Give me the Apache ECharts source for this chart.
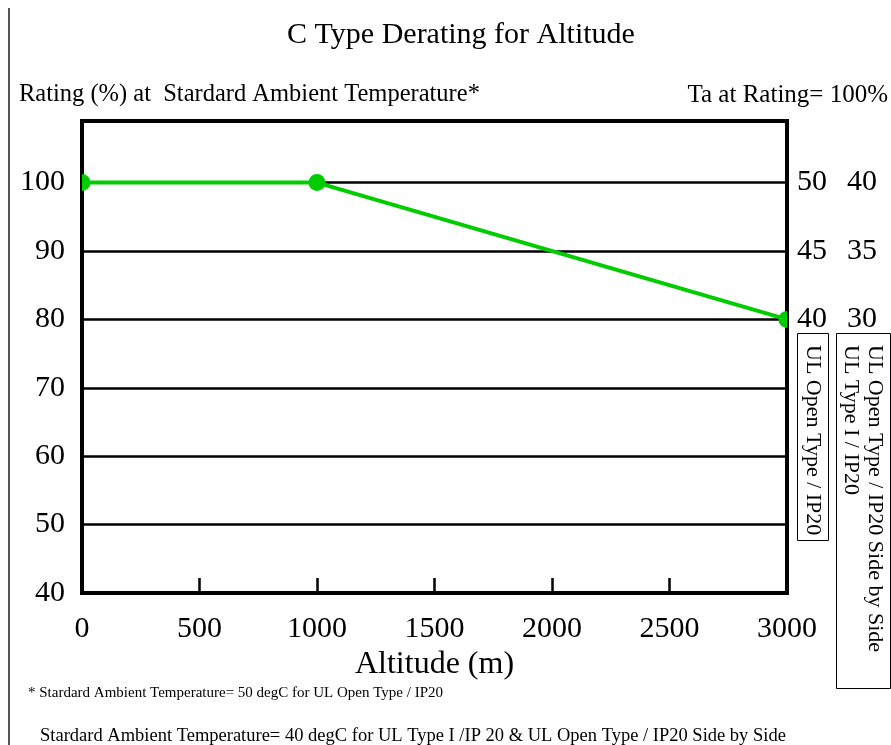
<!DOCTYPE html>
<html>
<head>
<meta charset="utf-8">
<script src="https://cdn.jsdelivr.net/npm/echarts@6/dist/echarts.min.js"></script>
<style>html,body{margin:0;padding:0;background:#fff;}#c{width:891px;height:745px;}</style>
</head>
<body>
<div id="c"></div>
<script>
const altitude = [0, 1000, 3000];
const rating = [100, 100, 80];
const rightTicks = [100, 90, 80];
const tempOpen = [50, 45, 40];
const tempSide = [40, 35, 30];
const titleText = 'C Type Derating for Altitude';
const leftHeader = 'Rating (%) at  Stardard Ambient Temperature*';
const rightHeader = 'Ta at Rating= 100%';
const xName = 'Altitude (m)';
const note1 = '* Stardard Ambient Temperature= 50 degC for UL Open Type / IP20';
const note2 = 'Stardard Ambient Temperature= 40 degC for UL Type I /IP 20 & UL Open Type / IP20 Side by Side';
const box1 = 'UL Open Type / IP20';
const box2 = ['UL Open Type / IP20 Side by Side', 'UL Type I / IP20'];

const FF = "'Liberation Serif', 'Times New Roman', serif";
const pts = altitude.map((a, i) => [a, rating[i]]);

const chart = echarts.init(document.getElementById('c'), null, {renderer: 'canvas'});
chart.setOption({
  animation: false,
  backgroundColor: '#fff',
  textStyle: {fontFamily: FF, color: '#000'},
  grid: {left: 82, right: 104, top: 121, bottom: 152, show: true, borderColor: '#000', borderWidth: 4, backgroundColor: 'transparent'},
  xAxis: {
    type: 'value', min: 0, max: 3000, interval: 500,
    name: xName, nameLocation: 'middle', nameGap: 52,
    nameTextStyle: {fontFamily: FF, fontSize: 32, color: '#000'},
    axisLine: {show: true, lineStyle: {color: '#000', width: 4}},
    axisTick: {show: true, inside: true, length: 15, lineStyle: {color: '#000', width: 2.5}},
    axisLabel: {fontFamily: FF, fontSize: 30, color: '#000', margin: 21, formatter: v => String(v)},
    splitLine: {show: false}
  },
  yAxis: [{
    type: 'value', min: 40, max: 109, interval: 10,
    axisLine: {show: true, lineStyle: {color: '#000', width: 4}},
    axisTick: {show: false},
    axisLabel: {fontFamily: FF, fontSize: 30, color: '#000', margin: 17,
      formatter: v => (v % 10 === 0 ? String(v) : '')},
    splitLine: {show: true, lineStyle: {color: '#000', width: 2.5}}
  }, {
    type: 'value', min: 40, max: 109, interval: 10, position: 'right',
    axisLine: {show: true, onZero: false, lineStyle: {color: '#000', width: 4}},
    axisTick: {show: false},
    axisLabel: {fontFamily: FF, fontSize: 30, color: '#000', margin: 10,
      formatter: v => {
        const i = rightTicks.indexOf(v);
        return i >= 0 ? '{a|' + tempOpen[i] + '}{b|' + tempSide[i] + '}' : '';
      },
      rich: {
        a: {fontFamily: FF, fontSize: 30, color: '#000'},
        b: {fontFamily: FF, fontSize: 30, color: '#000', padding: [0, 0, 0, 20]}
      }},
    splitLine: {show: false}
  }],
  series: [{
    type: 'line', data: pts, showSymbol: false, clip: true,
    lineStyle: {color: '#00cc00', width: 4}, z: 3
  }, {
    type: 'custom', data: pts, clip: true, z: 4,
    renderItem: (params, api) => {
      const p = api.coord([api.value(0), api.value(1)]);
      return {type: 'circle', shape: {cx: p[0], cy: p[1], r: 8.5}, style: {fill: '#00cc00'}};
    }
  }],
  graphic: [
    {type: 'line', shape: {x1: 9, y1: 8, x2: 9, y2: 745}, style: {stroke: '#555', lineWidth: 2}},
    {type: 'text', x: 461, y: 35, style: {text: titleText, font: '30px ' + FF, fill: '#000', align: 'center', verticalAlign: 'middle'}},
    {type: 'text', x: 19, y: 95, style: {text: leftHeader, font: '24.5px ' + FF, fill: '#000', align: 'left', verticalAlign: 'middle'}},
    {type: 'text', x: 888, y: 95, style: {text: rightHeader, font: '25px ' + FF, fill: '#000', align: 'right', verticalAlign: 'middle'}},
    {type: 'text', x: 28, y: 693, style: {text: note1, font: '15px ' + FF, fill: '#000', align: 'left', verticalAlign: 'middle'}},
    {type: 'text', x: 40, y: 736, style: {text: note2, font: '18.5px ' + FF, fill: '#000', align: 'left', verticalAlign: 'middle'}},
    {type: 'rect', shape: {x: 797.5, y: 333.5, width: 31, height: 207}, style: {fill: 'none', stroke: '#000', lineWidth: 1}},
    {type: 'text', x: 813, y: 345, rotation: -Math.PI / 2, style: {text: box1, font: '22px ' + FF, fill: '#000', align: 'left', verticalAlign: 'middle'}},
    {type: 'rect', shape: {x: 836.5, y: 333.5, width: 54, height: 355}, style: {fill: 'none', stroke: '#000', lineWidth: 1}},
    {type: 'text', x: 863, y: 345, rotation: -Math.PI / 2, style: {text: box2.join('\n'), font: '22px ' + FF, lineHeight: 24, fill: '#000', align: 'left', verticalAlign: 'middle'}}
  ]
});
</script>
</body>
</html>
